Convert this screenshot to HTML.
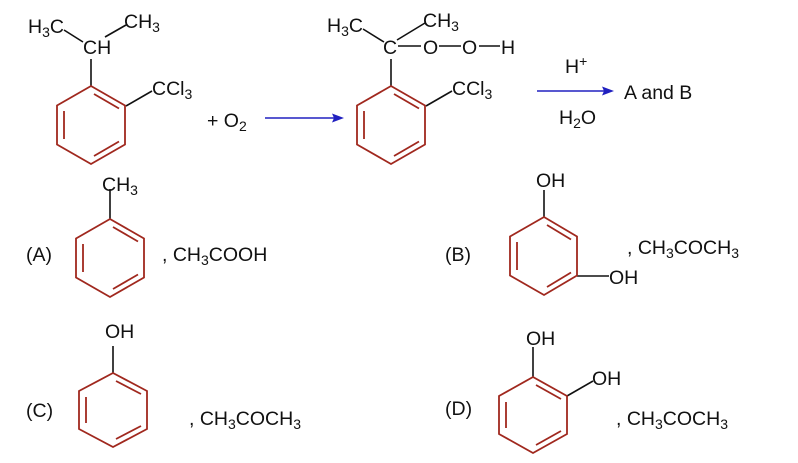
<!DOCTYPE html>
<html><head><meta charset="utf-8"><style>
html,body{margin:0;padding:0;background:#fff;}
svg{display:block;}
text{font-family:"Liberation Sans",Arial,sans-serif;font-size:19.5px;fill:#111;}
.s{font-size:14px;}
</style></head><body>
<svg id="g" width="798" height="463" viewBox="0 0 798 463" xmlns="http://www.w3.org/2000/svg">
<g stroke="#111" stroke-width="1.6" fill="none">
<line x1="64" y1="30" x2="83" y2="42"/><line x1="105" y1="37" x2="126" y2="25"/>
<line x1="91" y1="86" x2="91" y2="59"/>
<line x1="126" y1="106" x2="152" y2="91"/>
<line x1="363" y1="29" x2="384" y2="42"/><line x1="397" y1="40" x2="425" y2="23"/>
<line x1="391" y1="86" x2="391" y2="59"/>
<line x1="426" y1="106" x2="452" y2="91"/>
<line x1="398" y1="46" x2="421" y2="46"/><line x1="439" y1="46" x2="461" y2="46"/><line x1="479" y1="46" x2="500" y2="46"/>
<line x1="110" y1="219" x2="110" y2="189"/>
<line x1="113" y1="373" x2="113" y2="346"/>
<line x1="544" y1="217" x2="544" y2="190"/>
<line x1="577" y1="276" x2="609" y2="276"/>
<line x1="533" y1="377" x2="533" y2="347"/>
<line x1="567" y1="396" x2="593" y2="381"/>
</g>
<g stroke="#2020c0" stroke-width="1.6" fill="#2020c0">
<line x1="265" y1="118" x2="336" y2="118"/><polygon points="344,118 332,113.5 334,118 332,122.5" stroke="none"/>
<line x1="537" y1="91" x2="606" y2="91"/><polygon points="614,91 602,86.5 604,91 602,95.5" stroke="none"/>
</g>
<text x="28" y="33">H<tspan class="s" dy="4">3</tspan><tspan dy="-4">C</tspan></text>
<text x="124" y="28">CH<tspan class="s" dy="4">3</tspan></text>
<text x="83" y="54">CH</text>
<text x="152" y="95">CCl<tspan class="s" dy="4">3</tspan></text>
<text x="207" y="127">+ O<tspan class="s" dy="4">2</tspan></text>
<text x="327" y="32">H<tspan class="s" dy="4">3</tspan><tspan dy="-4">C</tspan></text>
<text x="423" y="27">CH<tspan class="s" dy="4">3</tspan></text>
<text x="383" y="54">C</text>
<text x="423" y="54">O</text>
<text x="462" y="54">O</text>
<text x="501" y="54">H</text>
<text x="452" y="95">CCl<tspan class="s" dy="4">3</tspan></text>
<text x="565" y="73">H<tspan class="s" dy="-7">+</tspan></text>
<text x="559" y="124">H<tspan class="s" dy="4">2</tspan><tspan dy="-4">O</tspan></text>
<text x="624" y="99">A and B</text>
<text x="102" y="191">CH<tspan class="s" dy="4">3</tspan></text>
<text x="26" y="261">(A)</text>
<text x="162" y="261">, CH<tspan class="s" dy="4">3</tspan><tspan dy="-4">COOH</tspan></text>
<text x="536" y="187">OH</text>
<text x="445" y="261">(B)</text>
<text x="627" y="254">, CH<tspan class="s" dy="4">3</tspan><tspan dy="-4">COCH</tspan><tspan class="s" dy="4">3</tspan></text>
<text x="609" y="284">OH</text>
<text x="105" y="338">OH</text>
<text x="26" y="417">(C)</text>
<text x="189" y="425">, CH<tspan class="s" dy="4">3</tspan><tspan dy="-4">COCH</tspan><tspan class="s" dy="4">3</tspan></text>
<text x="526" y="345">OH</text>
<text x="592" y="385">OH</text>
<text x="445" y="415">(D)</text>
<text x="616" y="425">, CH<tspan class="s" dy="4">3</tspan><tspan dy="-4">COCH</tspan><tspan class="s" dy="4">3</tspan></text>
<g stroke="#a0281e" stroke-width="1.8" fill="none">
<g transform="translate(91,125)"><polygon points="0,-39 34,-19.5 34,19.5 0,39 -34,19.5 -34,-19.5"/><line x1="-27" y1="-14" x2="-27" y2="14"/><line x1="3" y1="-31" x2="28" y2="-16.5"/><line x1="28" y1="16.5" x2="3" y2="31"/></g>
<g transform="translate(391,125)"><polygon points="0,-39 34,-19.5 34,19.5 0,39 -34,19.5 -34,-19.5"/><line x1="-27" y1="-14" x2="-27" y2="14"/><line x1="3" y1="-31" x2="28" y2="-16.5"/><line x1="28" y1="16.5" x2="3" y2="31"/></g>
<g transform="translate(110,258)"><polygon points="0,-39 34,-19.5 34,19.5 0,39 -34,19.5 -34,-19.5"/><line x1="-27" y1="-14" x2="-27" y2="14"/><line x1="3" y1="-31" x2="28" y2="-16.5"/><line x1="28" y1="16.5" x2="3" y2="31"/></g>
<g transform="translate(113,410)"><polygon points="0,-37 34,-19 34,19 0,37 -34,19 -34,-19"/><line x1="-27" y1="-13" x2="-27" y2="13"/><line x1="3" y1="-29" x2="28" y2="-16"/><line x1="28" y1="16" x2="3" y2="29"/></g>
<g transform="translate(544,256)"><polygon points="0,-39 33,-19.5 33,19.5 0,39 -34,19.5 -34,-19.5"/><line x1="-27" y1="-14" x2="-27" y2="14"/><line x1="3" y1="-31" x2="27" y2="-16.5"/><line x1="27" y1="16.5" x2="3" y2="31"/></g>
<g transform="translate(533,415)"><polygon points="0,-38 34,-19 34,19 0,38 -34,19 -34,-19"/><line x1="-27" y1="-13" x2="-27" y2="13"/><line x1="3" y1="-30" x2="28" y2="-16"/><line x1="28" y1="16" x2="3" y2="30"/></g>
</g>
</svg>
</body></html>
